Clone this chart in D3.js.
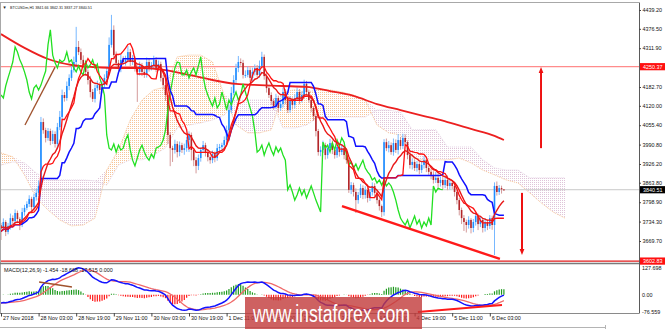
<!DOCTYPE html>
<html>
<head>
<meta charset="utf-8">
<script src="https://cdn.jsdelivr.net/npm/d3@7"></script>
<style>
  body { margin: 0; background: #fff; }
  text { font-family: "Liberation Sans", Arial, sans-serif; }
</style>
</head>
<body>
<div id="chart"></div>
<script>
// BTCUSDm H1, 27 Nov 11:00 .. 6 Dec 09:00, one close per bar (open = previous close)
const firstOpen = 3722
const closes = [
  3713,3733,3700,3720,3746,3736,3763,3743,3726,3766,
  3780,3793,3810,3783,3816,3830,3853,4066,4039,4013,
  4036,4003,4026,3993,4049,4083,4156,4146,4186,4213,
  4239,4266,4316,4299,4273,4256,4233,4206,4166,4143,
  4179,4189,4173,4189,4213,4236,4323,4373,4289,4263,
  4246,4273,4266,4273,4299,4266,4273,4246,4233,4253,
  4233,4223,4266,4246,4256,4273,4246,4259,4213,4189,
  4156,4023,3979,3973,3993,3966,3989,3973,3979,4006,
  4023,3973,3939,3920,3946,3973,3989,3966,3949,3939,
  3959,3946,3979,3983,3989,4006,4039,4106,4163,4206,
  4246,4266,4263,4223,4223,4239,4213,4233,4246,4223,
  4253,4283,4219,4179,4156,4136,4119,4146,4113,4126,
  4166,4139,4106,4139,4123,4146,4166,4139,4156,4193,
  4166,4139,4113,4086,4036,3966,3973,3989,3956,3979,
  3996,3973,3956,3983,3966,3979,3956,3939,3840,3856,
  3833,3806,3823,3846,3823,3840,3813,3833,3853,3830,
  3806,3786,3766,3999,3979,3989,3966,3996,3973,4006,
  3986,4013,3999,3956,3923,3933,3913,3926,3906,3923,
  3939,3913,3900,3890,3873,3880,3863,3873,3856,3873,
  3853,3863,3853,3833,3806,3773,3746,3733,3723,3740,
  3713,3733,3753,3726,3740,3713,3733,3720,3746,3723,
  3853,3833,3846,3841.66,3840.51
]
const wickUp = [
  8,12,6,10,15,9,12,8,6,14,10,9,12,7,10,14,18,17,12,8,
  10,8,12,9,14,20,18,10,15,12,14,18,67,20,12,15,10,8,14,10,
  12,15,9,14,12,16,25,50,15,12,10,18,12,14,20,10,16,12,8,14,
  10,9,15,12,10,14,9,12,8,10,12,6,10,8,14,9,12,8,15,10,
  12,8,6,10,12,9,14,8,10,6,12,9,14,10,8,12,15,18,20,16,
  14,20,12,10,15,12,9,14,12,10,18,17,8,10,6,9,8,14,8,12,
  15,10,8,14,9,12,15,10,12,14,10,8,9,6,8,7,12,15,8,10,
  14,9,8,12,10,14,8,6,8,10,8,12,10,14,9,12,8,10,12,9,
  8,6,5,10,12,14,9,15,12,20,10,14,12,6,8,12,9,10,8,12,
  14,9,8,10,12,20,14,10,12,9,15,12,8,9,6,7,8,10,8,12,
  6,10,12,8,10,7,12,9,10,8,12,15,10,8,0.65
]
const wickDn = [
  40,10,14,8,12,10,9,14,20,10,12,8,10,14,9,12,8,10,12,15,
  9,14,10,12,18,10,8,12,9,14,10,8,12,10,14,9,12,15,18,10,
  12,9,14,10,8,12,10,9,15,12,10,14,9,12,8,14,10,12,100,12,
  14,10,9,12,8,10,14,9,12,15,20,30,60,40,12,18,14,10,16,12,
  40,35,20,25,14,12,10,15,14,12,10,14,9,12,10,8,9,12,10,8,
  10,14,9,12,10,8,14,10,12,9,10,8,12,15,10,14,12,9,15,10,
  12,14,10,9,15,12,10,14,8,10,12,9,14,16,18,12,14,10,15,12,
  10,14,12,9,15,10,14,12,10,14,15,43,12,10,14,12,15,10,12,14,
  12,15,17,12,10,14,9,12,10,15,12,10,9,14,12,15,10,12,14,10,
  12,14,10,15,12,10,14,12,15,10,14,12,10,15,14,18,20,30,25,12,
  18,14,12,20,10,15,12,14,10,16,100,12,10,14,3.24
]

// slow moving average (needs history before the window)
const longMaBars = [0,10,20,30,40,50,60,70,80,90,100,110,120,130,140,150,160,170,180,190,200,210,214]
const longMa = [4359,4313,4276,4256,4249,4246,4246,4239,4223,4206,4193,4189,4186,4183,4169,4153,4126,4106,4086,4066,4043,4020,4006]

// ichimoku cloud spans as drawn (already shifted 26 bars forward)
const cloudBars = [0,5,10,15,20,25,30,35,40,45,50,55,60,65,70,75,80,85,90,95,100,105,110,115,120,
  125,130,135,140,145,150,155,160,165,170,175,180,185,190,195,200,205,210,215,220,225,230,235,240]
const spanA = [3963,3950,3890,3813,3773,3740,3720,3723,3746,3906,3973,4073,4139,4173,4183,4283,4289,4289,4266,4156,4056,4030,4030,4040,4166,
  4173,4166,4173,4173,4166,4156,4139,4056,4030,4023,3946,3940,3940,3940,3946,3930,3906,3890,3873,3863,3830,3796,3766,3746]
const spanB = [3923,3933,3930,3896,3873,3873,3873,3873,3870,3856,3923,3940,3940,3956,3980,4046,4056,4063,4073,4089,4139,4139,4139,4139,4046,
  4046,4056,4083,4083,4083,4083,4083,4106,4106,4099,4040,4040,4040,3983,3983,3983,3940,3913,3906,3906,3880,3880,3880,3880]

const priceTicks = [4439.20,4376.50,4311.90,4182.70,4120.00,4055.40,3990.80,3926.20,3863.80,3798.90,3734.30,3669.70]
const levelHigh = 4250.37
const levelLow = 3602.83
const macdTicks = [127.698, 0, -76.559]
const macdTickLabels = ["127.698", "0.00", "-76.559"]
const timeBars = [0,16,32,48,64,80,96,112,128,144,160,176,192,208]
const timeLabels = ["27 Nov 2018","28 Nov 03:00","28 Nov 19:00","29 Nov 11:00","30 Nov 03:00","30 Nov 19:00",
  "1 Dec 11:00","2 Dec 03:00","2 Dec 19:00","3 Dec 11:00","4 Dec 03:00","4 Dec 19:00","5 Dec 11:00","6 Dec 03:00"]

// hand drawn objects, in [bar, value]
const channelLine = [[145.1, 3786], [212.3, 3610]]
const brownLine = [[10.2, 4056], [23, 4249]]
const arrowUp = [[229.8, 3979], [229.8, 4239]]
const arrowDown = [[221.7, 3830], [221.7, 3633]]
const macdBrown = [[16.2, 56.7], [30.2, 34.5]]
const macdRed = [[177.4, -76.5], [213.2, -45.5]]
const macdSeed = {fast: 3745, slow: 3782}

const W = 665, H = 329
const plotRight = 639

const svg = d3.select('#chart').append('svg')
    .attr('width', W)
    .attr('height', H)
    .style('background', '#fff')

const x = d3.scaleLinear().domain([0, 270]).range([1, 1 + 270 * 2.35])
const y = d3.scaleLinear().domain([3669.70, 4439.20]).range([241, 10])
const yM = d3.scaleLinear().domain([-76.559, 127.698]).range([312, 266])

const bars = closes.map((c, i) => {
    const o = i ? closes[i - 1] : firstOpen
    return {i, o, c, h: Math.max(o, c) + wickUp[i], l: Math.min(o, c) - wickDn[i]}
})

function midpoint(n) {
    return bars.map((d, i) => {
        const w = bars.slice(Math.max(0, i - n + 1), i + 1)
        return [i, (d3.max(w, b => b.h) + d3.min(w, b => b.l)) / 2]
    })
}
function ema(values, n, seed) {
    const k = 2 / (n + 1)
    let e = seed
    return values.map(v => (e = e + k * (v - e)))
}

const tenkan = midpoint(9)
const kijun = midpoint(26)
const chikou = closes.slice(26).map((c, i) => [i, c])
const ema10 = ema(closes, 10, closes[0]).map((v, i) => [i, v])
const fast = ema(closes, 12, macdSeed.fast)
const slow = ema(closes, 26, macdSeed.slow)
const macd = fast.map((v, i) => v - slow[i])
const signal = macd.map((v, i) => d3.mean(macd.slice(Math.max(0, i - 8), i + 1)))
const hist = macd.map((v, i) => v - signal[i])

const defs = svg.append('defs')
defs.append('clipPath').attr('id', 'clipMain')
    .append('rect').attr('x', 1).attr('y', 3).attr('width', plotRight - 1).attr('height', 260)
defs.append('clipPath').attr('id', 'clipMacd')
    .append('rect').attr('x', 1).attr('y', 264).attr('width', plotRight - 1).attr('height', 49)

function dots(id, color) {
    defs.append('pattern').attr('id', id)
        .attr('width', 2).attr('height', 2)
        .attr('patternUnits', 'userSpaceOnUse')
        .append('rect').attr('width', 1).attr('height', 1).attr('fill', color)
}
dots('dotUp', '#f4a460')
dots('dotDn', '#cfa6c6')

defs.append('marker').attr('id', 'head')
    .attr('viewBox', '0 0 10 10').attr('refX', 5).attr('refY', 5)
    .attr('markerWidth', 3).attr('markerHeight', 4).attr('orient', 'auto')
    .append('path').attr('d', 'M0,1 L10,5 L0,9 Z').attr('fill', '#ee1111')

const main = svg.append('g').attr('clip-path', 'url(#clipMain)')

// cloud
const cloud = cloudBars.map((b, k) => ({b, a: spanA[k], s: spanB[k]}))
const kumo = main.append('g').attr('opacity', 0.65)
kumo.append('path').datum(cloud)
    .attr('fill', 'url(#dotUp)')
    .attr('d', d3.area().x(d => x(d.b)).y0(d => y(d.s)).y1(d => y(Math.max(d.a, d.s))))
kumo.append('path').datum(cloud)
    .attr('fill', 'url(#dotDn)')
    .attr('d', d3.area().x(d => x(d.b)).y0(d => y(d.a)).y1(d => y(Math.max(d.a, d.s))))
kumo.append('path').datum(cloud)
    .attr('fill', 'none').attr('stroke', '#f4a460').attr('stroke-dasharray', '1,1')
    .attr('d', d3.line().x(d => x(d.b)).y(d => y(d.a)))
kumo.append('path').datum(cloud)
    .attr('fill', 'none').attr('stroke', '#d8bfd8').attr('stroke-dasharray', '1,1')
    .attr('d', d3.line().x(d => x(d.b)).y(d => y(d.s)))

// levels
main.append('line').attr('x1', 0).attr('x2', plotRight)
    .attr('y1', y(levelHigh)).attr('y2', y(levelHigh))
    .attr('stroke', '#ff8c8c').attr('stroke-width', 1.2)
main.append('line').attr('x1', 0).attr('x2', plotRight)
    .attr('y1', y(closes[closes.length - 1])).attr('y2', y(closes[closes.length - 1]))
    .attr('stroke', '#c8c8c8')

// candles
const candle = main.append('g').selectAll('g')
    .data(bars)
    .join('g')
candle.append('line')
    .attr('x1', d => x(d.i)).attr('x2', d => x(d.i))
    .attr('y1', d => y(d.h)).attr('y2', d => y(d.l))
    .attr('stroke', d => d.c >= d.o ? '#78b8ff' : '#d49a9a')
    .attr('stroke-width', 1)
candle.append('rect')
    .attr('x', d => x(d.i) - 0.8)
    .attr('width', 1.6)
    .attr('y', d => y(Math.max(d.o, d.c)))
    .attr('height', d => Math.max(1, Math.abs(y(d.o) - y(d.c))))
    .attr('fill', d => d.c >= d.o ? '#1e8cff' : '#b3262a')

// indicator lines
const line = d3.line().x(d => x(d[0])).y(d => y(d[1]))
main.append('path').datum(longMaBars.map((b, k) => [b, longMa[k]]))
    .attr('fill', 'none').attr('stroke', '#ec2020').attr('stroke-width', 1.8)
    .attr('d', line.curve(d3.curveMonotoneX))
line.curve(d3.curveLinear)
main.append('path').datum(chikou)
    .attr('fill', 'none').attr('stroke', '#22e022').attr('stroke-width', 1.3).attr('d', line)
main.append('path').datum(kijun)
    .attr('fill', 'none').attr('stroke', '#1010ff').attr('stroke-width', 1.5).attr('d', line)
main.append('path').datum(tenkan)
    .attr('fill', 'none').attr('stroke', '#ff1010').attr('stroke-width', 1.3).attr('d', line)
main.append('path').datum(ema10)
    .attr('fill', 'none').attr('stroke', '#e81818').attr('stroke-width', 1.4).attr('d', line)

// drawn objects
main.append('path').datum(brownLine)
    .attr('fill', 'none').attr('stroke', '#a0522d').attr('stroke-width', 1.3).attr('d', line)
main.append('path').datum(channelLine)
    .attr('fill', 'none').attr('stroke', '#ff1a1a').attr('stroke-width', 2.4).attr('d', line)
;[arrowUp, arrowDown].forEach(a => {
    main.append('path').datum(a)
        .attr('fill', 'none').attr('stroke', '#ee1111').attr('stroke-width', 2)
        .attr('marker-end', 'url(#head)').attr('d', line)
})
main.append('line').attr('x1', 0).attr('x2', plotRight)
    .attr('y1', y(levelLow)).attr('y2', y(levelLow))
    .attr('stroke', '#e01a1a').attr('stroke-width', 1.3)

// MACD panel
const sub = svg.append('g').attr('clip-path', 'url(#clipMacd)')
sub.append('g').selectAll('line')
    .data(hist)
    .join('line')
    .attr('x1', (d, i) => x(i)).attr('x2', (d, i) => x(i))
    .attr('y1', yM(0)).attr('y2', d => yM(d))
    .attr('stroke', d => d >= 0 ? '#1e9a1e' : '#ff1a1a')
    .attr('stroke-width', 1.2)
const lineM = d3.line().x((d, i) => x(i)).y(d => yM(d))
sub.append('path').datum(signal)
    .attr('fill', 'none').attr('stroke', '#f06a6a').attr('stroke-width', 1.3).attr('d', lineM)
sub.append('path').datum(macd)
    .attr('fill', 'none').attr('stroke', '#1414ff').attr('stroke-width', 1.5).attr('d', lineM)
const lineM2 = d3.line().x(d => x(d[0])).y(d => yM(d[1]))
sub.append('path').datum(macdBrown)
    .attr('fill', 'none').attr('stroke', '#a0522d').attr('stroke-width', 1.3).attr('d', lineM2)
sub.append('path').datum(macdRed)
    .attr('fill', 'none').attr('stroke', '#ff1a1a').attr('stroke-width', 2).attr('d', lineM2)

// frames
const frame = svg.append('g').attr('fill', 'none')
frame.append('line').attr('x1', 0).attr('x2', plotRight).attr('y1', 2.5).attr('y2', 2.5).attr('stroke', '#a8a8a8')
frame.append('line').attr('x1', 0.5).attr('x2', 0.5).attr('y1', 2.5).attr('y2', 313).attr('stroke', '#a8a8a8')
frame.append('line').attr('x1', plotRight + 0.5).attr('x2', plotRight + 0.5).attr('y1', 2.5).attr('y2', 313.5).attr('stroke', '#5a5a5a')
frame.append('line').attr('x1', 0).attr('x2', plotRight).attr('y1', 263.5).attr('y2', 263.5).attr('stroke', '#7a7a7a').attr('stroke-width', 1.6)
frame.append('line').attr('x1', 0).attr('x2', plotRight).attr('y1', 313.5).attr('y2', 313.5).attr('stroke', '#8a8a8a')
frame.append('line').attr('x1', 0).attr('x2', 605).attr('y1', 327.5).attr('y2', 327.5).attr('stroke', '#b4b4b4')
frame.append('line').attr('x1', 605.5).attr('x2', 605.5).attr('y1', 325).attr('y2', 329).attr('stroke', '#b4b4b4')

// axes
const priceAxis = svg.append('g')
    .attr('transform', `translate(${plotRight},0)`)
    .call(d3.axisRight(y).tickValues(priceTicks).tickFormat(d => d.toFixed(2)).tickSize(2).tickPadding(1.5))
const macdAxis = svg.append('g')
    .attr('transform', `translate(${plotRight},0)`)
    .call(d3.axisRight(yM).tickValues(macdTicks).tickFormat((d, i) => macdTickLabels[i]).tickSize(0).tickPadding(3))
const timeAxis = svg.append('g')
    .attr('transform', 'translate(0,313)')
    .call(d3.axisBottom(x).tickValues(timeBars).tickFormat((d, i) => timeLabels[i]).tickSize(3.5).tickPadding(1))
;[priceAxis, macdAxis, timeAxis].forEach(g => {
    g.select('.domain').remove()
    g.selectAll('line').attr('stroke', '#444')
    g.selectAll('text').attr('fill', '#111').attr('font-size', 5.4)
})
macdAxis.selectAll('.tick').filter(d => d > 100).attr('transform', `translate(0,${yM(127.698) + 2})`)
timeAxis.selectAll('text').attr('text-anchor', 'start').attr('dx', 1.5).attr('y', 3.2)

// price tags
function tag(value, bg) {
    const g = svg.append('g').attr('transform', `translate(${plotRight + 1},${y(value)})`)
    g.append('rect').attr('x', 0).attr('y', -3.6).attr('width', 25).attr('height', 7.2).attr('fill', bg)
    g.append('text').attr('x', 3).attr('y', 2).attr('fill', '#fff').attr('font-size', 5.4).text(value.toFixed(2))
}
tag(levelHigh, '#ff1010')
tag(levelLow, '#ff1010')
tag(closes[closes.length - 1], '#000')

// header and indicator label
const last = bars[bars.length - 1]
svg.append('text').attr('x', 2.5).attr('y', 8.6).attr('font-size', 4.2).attr('fill', '#222').text('\u25BC')
svg.append('text').attr('x', 10).attr('y', 9)
    .attr('font-size', 4.4).attr('fill', '#111')
    .attr('textLength', 82).attr('lengthAdjust', 'spacingAndGlyphs')
    .text(`BTCUSDm,H1  ${last.o.toFixed(2)} ${last.h.toFixed(2)} ${last.l.toFixed(2)} ${last.c.toFixed(2)}`)
svg.append('text').attr('x', 4).attr('y', 271.5)
    .attr('font-size', 5.4).attr('fill', '#111')
    .text('MACD(12,26,9) -1.454 -18.668 -17.515 0.000')

// watermark
svg.append('rect').attr('x', 245).attr('y', 297).attr('width', 177).attr('height', 32)
    .attr('fill', '#c23a3a').attr('opacity', 0.8)
svg.append('text').attr('x', 253).attr('y', 322)
    .attr('font-size', 23).attr('fill', '#fff')
    .attr('textLength', 157).attr('lengthAdjust', 'spacingAndGlyphs')
    .text('www.instaforex.com')
</script>
</body>
</html>
